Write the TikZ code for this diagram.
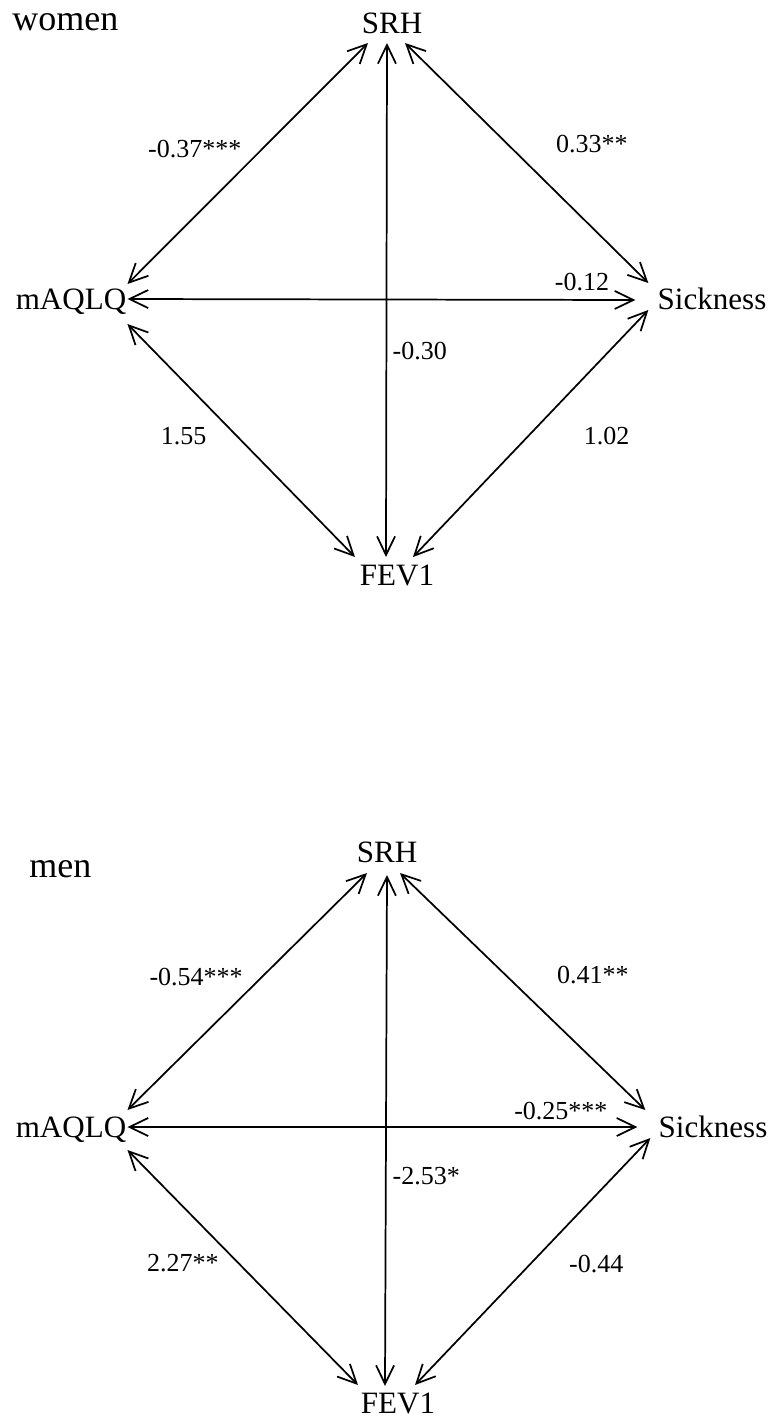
\documentclass[tikz,border=0pt]{standalone}
\usepackage{fontspec}
\setmainfont{Liberation Serif}
\usepackage{tikz}
\usetikzlibrary{arrows.meta}
\usetikzlibrary{calc}
\tikzset{>={Straight Barb[length=14pt,width=13.5pt]}}
\tikzset{line/.style={draw, <->, line width=1.3pt}}

\begin{document}
\begin{tikzpicture}[x=0.75pt, y=-0.75pt,
      var/.style={inner sep=0pt, anchor=base,
      font=\fontsize{23.3}{28}\selectfont},
      coef/.style={inner sep=0pt,
      font=\fontsize{19.5}{23}\selectfont},
      group/.style={inner sep=0pt, anchor=base west,
      font=\fontsize{27}{32}\selectfont}]
    \useasboundingbox (0,0) rectangle (781,1418);
    %% women
    \node [group] at (12,30) (women) {women};
    \node [var] at (392,33) (wSRH) {SRH};
    \node [var] at (71,309) (wAQ) {mAQLQ};
    \node [var] at (712,309) (wSick) {Sickness};
    \node [var] at (397,585) (wFEV) {FEV1};
    %% women, links to SRH
    \path [line] ($(wSRH.base)+(-24,10)$) to node [coef, pos=.44, left=15pt] {-0.37***} ($(wAQ.base east)+(1,-25)$);
    \path [line] ($(wSRH.base)+(13,10)$) to node [coef, pos=.42, right=36pt] {0.33**} ($(wSick.base west)+(-9,-26)$);
    \path [line] ($(wSRH.base)+(-5,10)$) to node [coef, pos=.6, right=4pt] {-0.30} ($(wFEV.base)+(-11,-28)$);
    %% women, other links
    \path [line] ($(wAQ.base east)+(1,-10)$) to node [coef, pos=.895, above=6pt] {-0.12} ($(wSick.base west)+(-22,-9)$);
    \path [line] ($(wAQ.base east)+(1,15)$) to node [coef, pos=.48, left=22pt] {1.55} ($(wFEV.base)+(-42,-28)$);
    \path [line] ($(wSick.base west)+(-9,1)$) to node [coef, pos=.51, right=41pt] {1.02} ($(wFEV.base)+(16,-28)$);
    %% men
    \node [group] at (29,877) (men) {men};
    \node [var] at (387,862) (mSRH) {SRH};
    \node [var] at (71,1137) (mAQ) {mAQLQ};
    \node [var] at (713,1137) (mSick) {Sickness};
    \node [var] at (398,1413) (mFEV) {FEV1};
    %% men, links to SRH
    \path [line] ($(mSRH.base)+(-20,11)$) to node [coef, pos=.44, left=13.5pt] {-0.54***} ($(mAQ.base east)+(1,-27)$);
    \path [line] ($(mSRH.base)+(13,11)$) to node [coef, pos=.43, right=38pt] {0.41**} ($(mSick.base west)+(-13,-27)$);
    \path [line] ($(mSRH.base)+(0,13)$) to node [coef, pos=.59, right=4.5pt] {-2.53*} ($(mFEV.base)+(-13,-27)$);
    %% men, other links
    \path [line] ($(mAQ.base east)+(1,-10)$) to node [coef, pos=.85, above=5pt] {-0.25***} ($(mSick.base west)+(-21,-10)$);
    \path [line] ($(mAQ.base east)+(1,13)$) to node [coef, pos=.48, left=14pt] {2.27**} ($(mFEV.base)+(-40,-28)$);
    \path [line] ($(mSick.base west)+(-8,1)$) to node [coef, pos=.51, right=28.5pt] {-0.44} ($(mFEV.base)+(17,-28)$);
  \end{tikzpicture}
\end{document}
